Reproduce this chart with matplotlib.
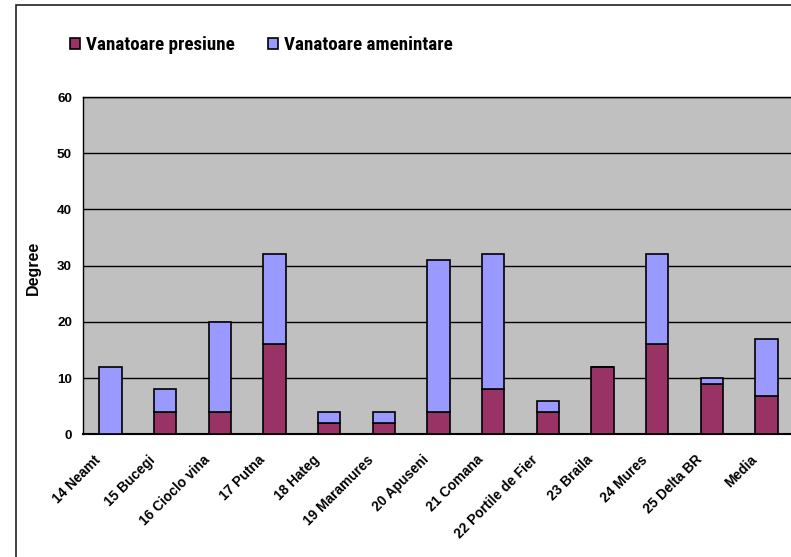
import matplotlib
matplotlib.use("Agg")
import matplotlib.pyplot as plt
from matplotlib.patches import Rectangle
import matplotlib.transforms as mtransforms
import numpy as np

categories = ["14 Neamt", "15 Bucegi", "16 Cioclo vina", "17 Putna", "18 Hateg",
              "19 Maramures", "20 Apuseni", "21 Comana", "22 Portile de Fier",
              "23 Braila", "24 Mures", "25 Delta BR", "Media"]
presiune = [0, 4, 4, 16, 2, 2, 4, 8, 4, 12, 16, 9, 6.75]
amenintare = [12, 4, 16, 16, 2, 2, 27, 24, 2, 0, 16, 1, 10.17]
series_names = ["Vanatoare presiune", "Vanatoare amenintare"]
yticks = [0, 10, 20, 30, 40, 50, 60]

plt.rcParams['font.family'] = ['Liberation Sans', 'DejaVu Sans']

W, H = 791, 557
fig = plt.figure(figsize=(W / 100, H / 100), dpi=100)

# outer chart border
fig.patches.append(Rectangle((16 / W, -0.05), 1.2, (H - 5) / H + 0.05,
                             transform=fig.transFigure, fill=False,
                             edgecolor='#222222', linewidth=1.2, zorder=0))

ax = fig.add_axes([83 / W, (H - 434.3) / H, (794 - 83) / W, (434.3 - 97) / H])
ax.set_facecolor('#C0C0C0')

x = np.arange(len(categories))
b1 = ax.bar(x, presiune, width=0.41, color='#993366', edgecolor='black',
            linewidth=1.2, zorder=3, label=series_names[0])
b2 = ax.bar(x, amenintare, width=0.41, bottom=presiune, color='#9999FF',
            edgecolor='black', linewidth=1.2, zorder=3, label=series_names[1])

ax.set_xlim(-0.5, len(categories) - 0.5)
ax.set_ylim(0, 60)
ax.set_yticks(yticks)
ax.set_yticklabels([str(v) for v in yticks], fontsize=9.7, fontweight='bold')
ax.yaxis.grid(True, color='black', linewidth=1.0, zorder=1)
ax.set_axisbelow(True)
ax.tick_params(axis='y', length=0, pad=8)
ax.tick_params(axis='x', length=0, pad=6)
ax.set_xticks(x)
ax.set_xticklabels(categories, rotation=45, ha='right', va='top',
                   rotation_mode='anchor', fontsize=9.9, fontweight='bold')
offset = mtransforms.ScaledTranslation(-17 / 100, -10 / 100, fig.dpi_scale_trans)
for lbl in ax.get_xticklabels():
    lbl.set_transform(lbl.get_transform() + offset)

for s in ax.spines.values():
    s.set_color('black')
    s.set_linewidth(1.0)
ax.spines['bottom'].set_linewidth(1.5)

fig.text(33.5 / W, 1 - 268 / H, "Degree", rotation=90, ha='center', va='center',
         fontsize=11.5, fontweight='bold')

leg = fig.legend(handles=[b1, b2], labels=series_names, ncol=2, frameon=False,
                 loc='center', bbox_to_anchor=(261.5 / W, 1 - 45 / H),
                 prop={'family': ['Roboto Condensed', 'PT Sans Narrow',
                                  'Archivo Narrow', 'Liberation Sans'],
                       'weight': 'bold', 'size': 13.7},
                 handlelength=0.53, handleheight=0.53, handletextpad=0.3,
                 columnspacing=1.75, borderpad=0)

fig.savefig("out.png", dpi=100)
